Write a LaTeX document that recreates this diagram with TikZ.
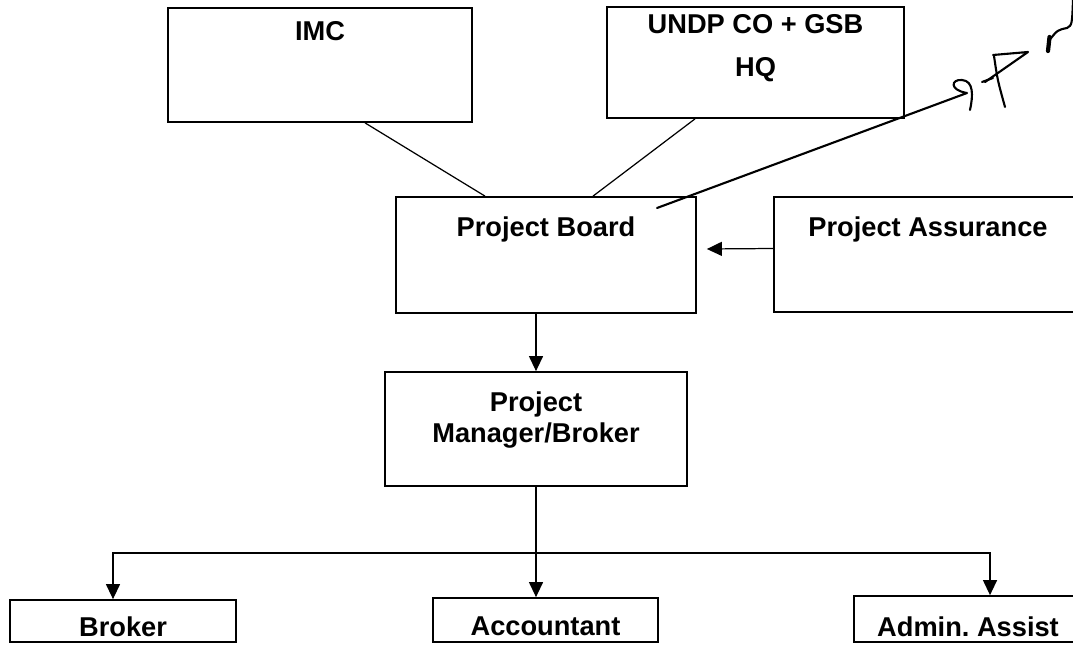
\documentclass[tikz,border=0pt]{standalone}
\usepackage{fontspec}
\setmainfont{Liberation Sans}
\frenchspacing
\usetikzlibrary{arrows.meta, positioning}

\tikzset{
	box/.style={draw, line width=1pt, inner sep=0pt},
	lbl/.style={inner sep=0pt, align=center, font=\bfseries\fontsize{15.5}{18}\selectfont},
	arr/.style={-{Triangle[length=3mm, width=2.8mm]}, line width=0.7pt},
	link/.style={line width=0.7pt},
	pen/.style={line width=1.2pt, line cap=round, line join=round}
}

\begin{document}
\begin{tikzpicture}
			\clip (0, 0) rectangle (21.46, -12.88);
			
			% Top row
			\node[box, minimum width=6.08cm, minimum height=2.28cm] (imc) at (6.40, -1.30) {};
			\node[lbl, below=0.28cm of imc.north] (imctext) {IMC};
			
			\node[box, minimum width=5.94cm, minimum height=2.22cm] (undp) at (15.11, -1.25) {};
			\node[lbl, font=\bfseries\fontsize{15.5}{24.4}\selectfont, below=0.17cm of undp.north] (undptext) {UNDP CO + GSB\\HQ};
			
			% Board and assurance
			\node[box, minimum width=6.00cm, minimum height=2.32cm] (pb) at (10.92, -5.10) {};
			\node[lbl, below=0.40cm of pb.north] (pbtext) {Project Board};
			
			\node[box, minimum width=6.16cm, minimum height=2.30cm] (pa) at (18.56, -5.09) {};
			\node[lbl, below=0.40cm of pa.north] (patext) {Project Assurance};
			
			% Manager
			\node[box, minimum width=6.04cm, minimum height=2.28cm] (pm) at (10.72, -8.58) {};
			\node[lbl, font=\bfseries\fontsize{15.5}{17.6}\selectfont, below=0.41cm of pm.north] (pmtext) {Project\\Manager/Broker};
			
			% Bottom row
			\node[box, minimum width=4.52cm, minimum height=0.84cm] (brk) at (2.46, -12.42) {};
			\node[lbl, below=0.35cm of brk.north] (brktext) {Broker};
			
			\node[box, minimum width=4.50cm, minimum height=0.88cm] (acc) at (10.91, -12.40) {};
			\node[lbl, below=0.39cm of acc.north] (acctext) {Accountant};
			
			\node[box, minimum width=4.56cm, minimum height=0.92cm] (adm) at (19.36, -12.38) {};
			\node[lbl, below=0.43cm of adm.north] (admtext) {Admin. Assist};
			
			% Links to the board
			\draw[link] ([xshift=9mm]imc.south) -- ([xshift=-12.2mm]pb.north);
			\draw[link] ([xshift=-12.1mm]undp.south) -- ([xshift=9.4mm]pb.north);
			\draw[arr] ([yshift=1.2mm]pa.west) -- ([xshift=2mm, yshift=1.2mm]pb.east);
			\draw[arr] (pm.north |- pb.south) -- (pm.north);
			
			% Tree below the manager
			\draw[link] (pm.south) -- ++(0, -1.32) coordinate (split);
			\draw[arr] (split) -- (split |- acc.north);
			\draw[arr] (split) -| ([xshift=-2mm]brk.north);
			\draw[arr] (split) -| ([xshift=4.4mm]adm.north);
			
			% Pen marks
			\draw[pen] (13.14, -4.16) -- (19.34, -1.86)
				.. controls (18.98, -1.80) and (19.02, -1.58) .. (19.24, -1.60)
				.. controls (19.48, -1.62) and (19.46, -1.92) .. (19.40, -2.20);
			\draw[pen] (19.64, -1.64) -- (19.86, -1.56);
			\draw[pen] (19.86, -1.10) -- (20.56, -1.04) -- (19.70, -1.64);
			\draw[pen] (19.88, -1.12) .. controls (19.95, -1.60) .. (20.10, -2.14);
			\draw[line width=2.4pt, line cap=round] (20.96, -1.02) -- (20.99, -0.74);
			\draw[pen] (20.99, -0.80) .. controls (21.15, -0.60) .. (21.34, -0.56)
				.. controls (21.44, -0.50) .. (21.46, 0.00);
			
		\end{tikzpicture}
\end{document}
